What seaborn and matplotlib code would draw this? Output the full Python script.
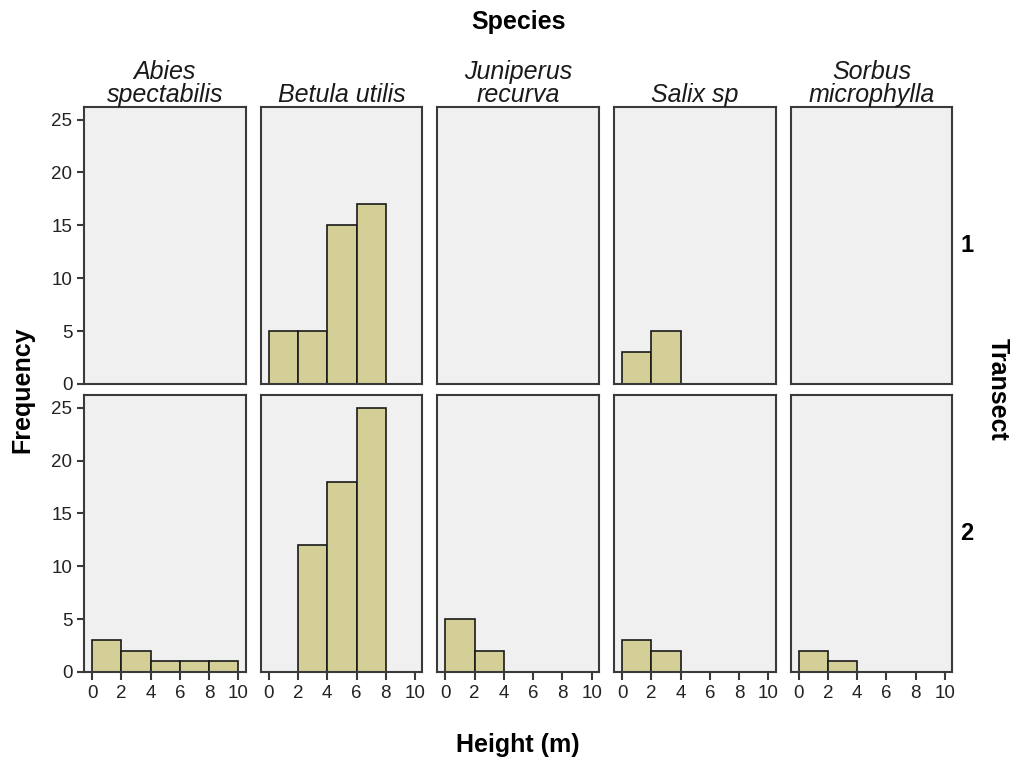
import textwrap

import matplotlib
matplotlib.use("Agg")
import matplotlib.pyplot as plt
import pandas as pd
import seaborn as sns


SPECIES = ["Abies spectabilis", "Betula utilis", "Juniperus recurva",
           "Salix sp", "Sorbus microphylla"]
TRANSECTS = [1, 2]
BIN_EDGES = [0, 2, 4, 6, 8, 10]
X_TICKS = [0, 2, 4, 6, 8, 10]
Y_TICKS = [0, 5, 10, 15, 20, 25]

# trees per 2 m height class; empty list = species absent on that transect
T1_COUNTS = {
    "Abies spectabilis": [],
    "Betula utilis": [5, 5, 15, 17, 0],
    "Juniperus recurva": [],
    "Salix sp": [3, 5, 0, 0, 0],
    "Sorbus microphylla": [],
}
T2_COUNTS = {
    "Abies spectabilis": [3, 2, 1, 1, 1],
    "Betula utilis": [0, 12, 18, 25, 0],
    "Juniperus recurva": [5, 2, 0, 0, 0],
    "Salix sp": [3, 2, 0, 0, 0],
    "Sorbus microphylla": [2, 1, 0, 0, 0],
}

COLORS = {
    "bar": "#D3CF97",
    "edge": "#1a1a1a",
    "panel": "#F0F0F0",
    "frame": "#3a3a3a",
    "text": "#000000",
}


def _long_frame():
    mids = [(a + b) / 2 for a, b in zip(BIN_EDGES[:-1], BIN_EDGES[1:])]
    rows = []
    for t, table in zip(TRANSECTS, [T1_COUNTS, T2_COUNTS]):
        for sp in SPECIES:
            for m, c in zip(mids, table[sp]):
                rows.append({"Transect": t, "Species": sp, "height": m, "count": c})
    return pd.DataFrame(rows)


sns.set_theme(style="white", rc={
    "axes.facecolor": COLORS["panel"],
    "axes.edgecolor": COLORS["frame"],
    "axes.linewidth": 1.5,
    "xtick.bottom": True,
    "ytick.left": True,
    "xtick.direction": "out",
    "ytick.direction": "out",
    "xtick.major.size": 6,
    "ytick.major.size": 5,
    "xtick.major.width": 1.5,
    "ytick.major.width": 1.5,
    "xtick.color": COLORS["frame"],
    "ytick.color": COLORS["frame"],
    "xtick.labelcolor": "#222222",
    "ytick.labelcolor": "#222222",
    "xtick.labelsize": 13.5,
    "ytick.labelsize": 13.5,
})
plt.rcParams["font.family"] = ["Liberation Sans", "DejaVu Sans"]

df = _long_frame()

g = sns.FacetGrid(df, row="Transect", col="Species",
                  row_order=TRANSECTS, col_order=SPECIES,
                  sharex=True, sharey=True, despine=False, height=3, aspect=0.6)
g.map_dataframe(sns.histplot, x="height", weights="count", bins=BIN_EDGES,
                color=COLORS["bar"], edgecolor=COLORS["edge"], linewidth=1.2, alpha=1)

fig = g.figure
fig.set_size_inches(10.13, 7.58)
fig.subplots_adjust(left=0.083, right=0.94, top=0.859, bottom=0.1135,
                    wspace=0.093, hspace=0.04)
g.set_titles("")
g.set_axis_labels("", "")

for i, t in enumerate(TRANSECTS):
    for j, sp in enumerate(SPECIES):
        ax = g.axes[i, j]
        ax.set_xlim(-0.55, 10.5)
        ax.set_ylim(0, 26.2)
        ax.set_xticks(X_TICKS)
        ax.set_yticks(Y_TICKS)
        ax.grid(False)
        for s in ax.spines.values():
            s.set_visible(True)
        if j > 0:
            ax.tick_params(left=False, labelleft=False)
        if i == 0:
            ax.tick_params(bottom=False, labelbottom=False)
            ax.set_title(textwrap.fill(sp, 13), fontstyle="italic", fontsize=18,
                         linespacing=0.92, pad=2, color="#1a1a1a")
        if j == len(SPECIES) - 1:
            ax.text(1.05, 0.5, str(t), transform=ax.transAxes, ha="left",
                    va="center", fontsize=17, fontweight="bold", color=COLORS["text"])

bold = dict(fontsize=18, fontweight="bold", color=COLORS["text"])
cx = (0.083 + 0.94) / 2
cy = (0.859 + 0.1135) / 2
fig.text(cx, 1 - 22 / 758, "Species", ha="center", va="center", **bold)
fig.text(cx, 1 - 745 / 758, "Height (m)", ha="center", va="center", **bold)
fig.text(22 / 1013, cy, "Frequency", ha="center", va="center", rotation=90, **bold)
fig.text(998 / 1013, cy, "Transect", ha="center", va="center", rotation=270, **bold)

fig.savefig("out.png", dpi=100, facecolor="white")
